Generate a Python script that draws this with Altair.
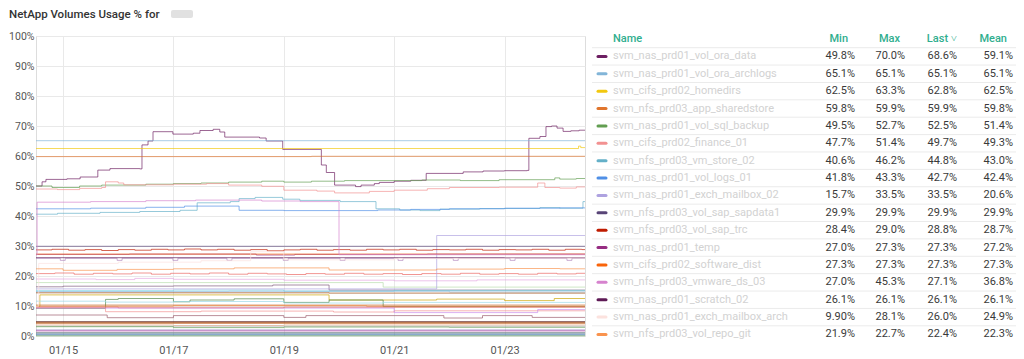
import altair as alt
import pandas as pd

FONT = "Roboto"
TITLE = "NetApp Volumes Usage % for"
START = 14.51      # day of January 2024 at the left edge
END = 24.457       # day of January 2024 at the right edge
X_TICKS = [15, 17, 19, 21, 23]
Y_TICKS = list(range(0, 101, 10))

HEADERS = ["Name", "Min", "Max", "Last \u02c5", "Mean"]
LEGEND_NAMES = [
    "svm_nas_prd01_vol_ora_data",
    "svm_nas_prd01_vol_ora_archlogs",
    "svm_cifs_prd02_homedirs",
    "svm_nfs_prd03_app_sharedstore",
    "svm_nas_prd01_vol_sql_backup",
    "svm_cifs_prd02_finance_01",
    "svm_nfs_prd03_vm_store_02",
    "svm_nas_prd01_vol_logs_01",
    "svm_nas_prd01_exch_mailbox_02",
    "svm_nfs_prd03_vol_sap_sapdata1",
    "svm_nfs_prd03_vol_sap_trc",
    "svm_nas_prd01_temp",
    "svm_cifs_prd02_software_dist",
    "svm_nfs_prd03_vmware_ds_03",
    "svm_nas_prd01_scratch_02",
    "svm_nas_prd01_exch_mailbox_arch",
    "svm_nfs_prd03_vol_repo_git",
]
LEGEND_COLORS = ["#6D1F62", "#82B5D8", "#F2C80F", "#E0752D", "#629E51", "#F29191",
                 "#64B0C8", "#4F8FE6", "#AEA2E0", "#584477", "#BF1B00", "#962D82",
                 "#F9640A", "#D683CE", "#5E1A55", "#FCE2DE", "#F9934E"]
LEGEND_MIN = ["49.8%", "65.1%", "62.5%", "59.8%", "49.5%", "47.7%", "40.6%", "41.8%", "15.7%",
              "29.9%", "28.4%", "27.0%", "27.3%", "27.0%", "26.1%", "9.90%", "21.9%"]
LEGEND_MAX = ["70.0%", "65.1%", "63.3%", "59.9%", "52.7%", "51.4%", "46.2%", "43.3%", "33.5%",
              "29.9%", "29.0%", "27.3%", "27.3%", "45.3%", "26.1%", "28.1%", "22.7%"]
LEGEND_LAST = ["68.6%", "65.1%", "62.8%", "59.9%", "52.5%", "49.7%", "44.8%", "42.7%", "33.5%",
               "29.9%", "28.8%", "27.3%", "27.3%", "27.1%", "26.1%", "26.0%", "22.4%"]
LEGEND_MEAN = ["59.1%", "65.1%", "62.5%", "59.8%", "51.4%", "49.3%", "43.0%", "42.4%", "20.6%",
               "29.9%", "28.7%", "27.2%", "27.3%", "36.8%", "26.1%", "24.9%", "22.3%"]

# ---- series: (day of January, percent) change points ----
vol01 = [(14.51, 50.0), (14.62, 51.4), (14.69, 52.2), (15.07, 52.4), (15.31, 53.0), (15.63, 55.3),
         (15.85, 55.8), (16.39, 55.7), (16.43, 63.7), (16.54, 65.0), (16.63, 68.1), (16.99, 67.3),
         (17.36, 67.6), (17.48, 68.5), (17.72, 68.9), (17.84, 68.0), (17.93, 66.3), (18.56, 66.0),
         (18.68, 65.0), (18.98, 62.2), (19.68, 57.0), (19.77, 54.5), (19.92, 50.3), (20.30, 49.8),
         (20.40, 50.3), (20.64, 50.8), (20.73, 51.2), (21.00, 51.6), (21.30, 51.9), (21.58, 54.2),
         (22.25, 54.7), (22.61, 55.0), (23.00, 55.1), (23.41, 55.2), (23.44, 65.9), (23.64, 66.5),
         (23.75, 69.8), (23.85, 70.0), (23.95, 69.3), (24.06, 68.2), (24.20, 68.4), (24.35, 68.6)]
vol02 = [(14.51, 65.1)]
vol03 = [(14.51, 62.5), (24.34, 63.3), (24.38, 62.8)]
vol04 = [(14.51, 59.8), (19.50, 59.9)]
vol05 = [(14.51, 50.0), (14.80, 49.5), (15.30, 50.0), (15.70, 50.3), (16.50, 50.6), (17.00, 50.8),
         (17.50, 51.0), (18.00, 51.3), (18.60, 51.6), (19.00, 51.3), (19.50, 51.6), (20.10, 51.8),
         (21.50, 52.0), (22.20, 51.8), (22.90, 52.1), (23.91, 52.7), (24.00, 52.3), (24.30, 52.5)]
vol06 = [(14.51, 49.0), (14.90, 48.8), (15.30, 49.2), (15.70, 49.5), (15.77, 51.4), (16.00, 51.0),
         (16.10, 50.4), (17.00, 50.6), (17.60, 50.8), (18.00, 50.3), (18.60, 49.9), (19.00, 48.6),
         (19.60, 48.3), (19.92, 47.7), (20.55, 48.2), (21.00, 48.6), (21.60, 49.1), (22.00, 49.5),
         (22.90, 49.6), (23.60, 51.0), (23.73, 49.5), (24.00, 49.3), (24.30, 49.7)]
vol07 = [(14.51, 40.6), (14.90, 40.9), (15.67, 41.2), (16.39, 41.5), (17.12, 41.9), (17.43, 44.4),
         (18.03, 44.8), (18.19, 45.8), (18.48, 46.2), (18.98, 45.6), (19.29, 45.2), (20.02, 44.8),
         (20.67, 42.4), (21.10, 42.0), (21.47, 41.8), (21.83, 42.3), (22.55, 42.5), (23.64, 42.8),
         (24.00, 42.6), (24.42, 44.8)]
vol08 = [(14.51, 42.4), (15.50, 42.6), (16.50, 42.9), (17.20, 43.3), (18.19, 41.9), (19.00, 41.8),
         (20.70, 42.0), (21.30, 42.2), (22.00, 42.4), (23.00, 42.6), (24.00, 42.7)]
vol09 = [(14.51, 15.7), (21.77, 33.5)]
vol10 = [(14.51, 29.9)]
vol11 = [(14.51, 28.7), (14.80, 28.9), (15.10, 28.6), (15.40, 28.8), (15.70, 28.5), (16.00, 28.8),
         (16.30, 28.6), (16.60, 28.9), (16.90, 28.7), (17.20, 29.0), (17.50, 28.7), (17.80, 28.9),
         (18.10, 28.6), (18.40, 28.8), (18.70, 28.4), (19.00, 28.7), (19.30, 28.9), (19.60, 28.6),
         (19.90, 28.8), (20.20, 28.6), (20.50, 28.9), (20.80, 28.7), (21.10, 28.9), (21.40, 28.6),
         (21.70, 28.8), (22.00, 28.7), (22.30, 28.9), (22.60, 28.6), (22.90, 28.8), (23.20, 28.7),
         (23.50, 28.9), (23.80, 28.6), (24.10, 28.9), (24.40, 28.8)]
vol12 = [(14.51, 27.2), (16.20, 27.3), (18.50, 27.0), (19.20, 27.2), (21.60, 27.3)]
vol13 = [(14.51, 27.3)]
vol14 = [(14.51, 27.0), (14.53, 44.6), (15.50, 44.8), (16.50, 45.1), (17.40, 45.3), (18.60, 45.0),
         (19.30, 44.8), (20.00, 27.1)]
vol15 = [(14.51, 26.1)]
vol16 = [(14.51, 9.9), (14.56, 24.2), (16.00, 24.6), (17.50, 25.1), (18.40, 28.1), (19.00, 25.4),
         (21.00, 25.8), (23.00, 26.0)]
vol17 = [(14.51, 22.4), (15.00, 21.9), (15.98, 22.2), (17.00, 22.4), (18.10, 22.7), (19.82, 22.0),
         (21.77, 22.3), (23.00, 22.5), (24.00, 22.4)]

# volumes further down the (scrolled) legend
vol18 = [(14.51, 25.9), (14.95, 25.2), (15.04, 25.9), (15.98, 25.2), (16.07, 25.9), (16.99, 25.2),
         (17.08, 25.9), (17.97, 25.2), (18.06, 25.9), (18.99, 25.2), (19.08, 25.9), (20.02, 25.2),
         (20.11, 25.9), (21.07, 25.2), (21.16, 25.9), (22.07, 25.2), (22.16, 25.9), (23.10, 25.2),
         (23.19, 25.9), (24.13, 25.2), (24.22, 25.9)]
vol19 = [(14.51, 20.8), (14.85, 21.0), (15.20, 20.6), (15.55, 20.9), (15.90, 20.7), (16.25, 21.0),
         (16.60, 20.6), (16.95, 20.9), (17.30, 20.7), (17.65, 21.0), (18.00, 20.6), (18.35, 20.9),
         (18.70, 20.7), (19.05, 20.5), (19.40, 20.8), (19.75, 20.6), (20.10, 20.9), (20.45, 20.6),
         (20.80, 20.8), (21.15, 20.5), (21.50, 20.8), (21.85, 20.6), (22.20, 20.9), (22.55, 20.6),
         (22.90, 20.8), (23.25, 20.6), (23.60, 20.9), (23.95, 20.7), (24.30, 20.9)]
vol20 = [(14.51, 19.0), (15.60, 18.8), (16.30, 19.2), (17.00, 18.9), (19.00, 18.6), (21.00, 18.4),
         (22.50, 18.7)]
vol21 = [(14.51, 17.8), (20.80, 16.3)]
vol22 = [(14.51, 16.4), (15.00, 16.6), (17.00, 16.7), (18.80, 17.0), (19.82, 15.3)]
vol23 = [(14.51, 15.1), (17.00, 15.3), (19.00, 15.0), (21.00, 15.2)]
vol24 = [(14.51, 14.8), (18.00, 14.9), (22.00, 14.7)]
vol25 = [(14.51, 14.4), (19.82, 14.3)]
vol26 = [(14.51, 9.9), (14.58, 13.7), (19.82, 12.0), (21.77, 12.3), (23.00, 11.8), (23.90, 12.5)]
vol27 = [(14.51, 9.2), (15.77, 12.2), (16.00, 12.5), (17.00, 11.4), (17.30, 12.0), (18.10, 12.4),
         (19.00, 11.2), (19.82, 12.0), (20.80, 9.8)]
vol28 = [(14.51, 11.6), (15.77, 11.3), (17.00, 11.5), (19.00, 11.0), (20.80, 11.2)]
vol29 = [(14.51, 10.3)]
vol30 = [(14.51, 9.9), (17.00, 10.1), (20.50, 9.9)]
vol31 = [(14.51, 9.6), (16.00, 9.4), (19.00, 9.6)]
vol32 = [(14.51, 9.4), (15.77, 8.1), (17.50, 8.3), (19.90, 8.0), (21.00, 8.4)]
vol33 = [(14.51, 9.3), (21.00, 7.8), (23.60, 8.8)]
vol34 = [(14.51, 7.0), (15.80, 6.1), (17.00, 6.8), (19.00, 6.2), (19.40, 6.8), (21.90, 6.0),
         (22.60, 6.8), (23.50, 6.2)]
vol35 = [(14.51, 4.8)]
vol36 = [(14.51, 4.5)]
vol37 = [(14.51, 4.2)]
vol38 = [(14.51, 3.7), (17.00, 3.5), (19.00, 3.7)]
vol39 = [(14.51, 3.3)]
vol40 = [(14.51, 3.1), (17.00, 2.8), (19.00, 3.0), (22.00, 2.9)]
vol41 = [(14.51, 2.0)]
vol42 = [(14.51, 1.7)]
vol43 = [(14.51, 1.2)]
vol44 = [(14.51, 1.0)]
vol45 = [(14.51, 0.6)]
vol46 = [(14.51, 0.3)]
vol47 = [(14.51, 0.05)]

EXTRA = [
    (vol18, "#B48BC0"), (vol19, "#EA6460"), (vol20, "#E5A8E2"), (vol21, "#B7DBAB"),
    (vol22, "#7F5A7E"), (vol23, "#6ED0E0"), (vol24, "#82B5D8"), (vol25, "#99440A"),
    (vol26, "#CCA300"), (vol27, "#508642"), (vol28, "#9AD8E8"), (vol29, "#C15C17"),
    (vol30, "#EF843C"), (vol31, "#E24D42"), (vol32, "#F29191"), (vol33, "#C98BEA"),
    (vol34, "#9A5A6A"), (vol35, "#58140C"), (vol36, "#99440A"), (vol37, "#C15C17"),
    (vol38, "#F9BA8F"), (vol39, "#A0A0A0"), (vol40, "#629E51"), (vol41, "#806EB7"),
    (vol42, "#BA43A9"), (vol43, "#BDBDBD"), (vol44, "#2F575E"), (vol45, "#447EBC"),
    (vol46, "#3F6E9E"), (vol47, "#7EB26D"),
]
LEGEND_SERIES = [vol01, vol02, vol03, vol04, vol05, vol06, vol07, vol08, vol09,
                 vol10, vol11, vol12, vol13, vol14, vol15, vol16, vol17]

BASE = pd.Timestamp("2024-01-01")


def iso(day):
    return (BASE + pd.to_timedelta(day - 1, unit="D")).strftime("%Y-%m-%dT%H:%M:%S")


def dt(day):
    ts = BASE + pd.to_timedelta(day - 1, unit="D")
    return alt.DateTime(year=ts.year, month=ts.month, date=ts.day,
                        hours=ts.hour, minutes=ts.minute, seconds=ts.second)


all_series = EXTRA + list(zip(LEGEND_SERIES, LEGEND_COLORS))
rows = []
for i, (pts, color) in enumerate(all_series):
    pts = list(pts) + [(END, pts[-1][1])]
    for d, v in pts:
        rows.append({"series": f"s{i:02d}", "color": color, "t": iso(d), "v": v})
lines_df = pd.DataFrame(rows)

lines = alt.Chart(lines_df).mark_line(
    interpolate="step-after", strokeWidth=1, opacity=0.68
).encode(
    x=alt.X("t:T", title=None,
            scale=alt.Scale(domain=[dt(START), dt(END)]),
            axis=alt.Axis(values=[alt.DateTime(year=2024, month=1, date=d) for d in X_TICKS],
                          format="%m/%d", domain=False, ticks=False, labelPadding=8,
                          labelFontSize=11, labelColor="#555555", labelFont=FONT,
                          gridColor="#e9e9e9", labelFlush=False)),
    y=alt.Y("v:Q", title=None,
            scale=alt.Scale(domain=[0, 100], nice=False),
            axis=alt.Axis(values=Y_TICKS, labelExpr="datum.value + '%'", domain=False,
                          ticks=False, labelPadding=2, labelFontSize=10.5,
                          labelColor="#555555", labelFont=FONT, gridColor="#e9e9e9")),
    color=alt.Color("color:N", scale=None),
    detail="series:N",
)

# ---- legend table ----
ROW_SCALE = alt.Scale(domain=[-0.1726, 17.087], reverse=True, zero=False, nice=False)
table_df = pd.DataFrame({
    "row": list(range(1, len(LEGEND_NAMES) + 1)),
    "name": LEGEND_NAMES, "color": LEGEND_COLORS,
    "min": LEGEND_MIN, "max": LEGEND_MAX, "last": LEGEND_LAST, "mean": LEGEND_MEAN,
})
header_df = pd.DataFrame({"row": [0], **{f"h{i}": [h] for i, h in enumerate(HEADERS)}})
sep_df = pd.DataFrame({"sep": [i + 0.5 for i in range(len(LEGEND_NAMES))]})

HEAD_COLOR = "#2fae8e"


def text_layer(df, field, xpos, align, color, weight="normal"):
    return alt.Chart(df).mark_text(
        align=align, baseline="middle", font=FONT, fontSize=11, color=color, fontWeight=weight
    ).encode(
        x=alt.value(xpos),
        y=alt.Y("row:Q", scale=ROW_SCALE, axis=None),
        text=alt.Text(f"{field}:N"),
    )


separators = alt.Chart(sep_df).mark_rule(color="#ebebeb", strokeWidth=1).encode(
    x=alt.value(556), x2=alt.value(982),
    y=alt.Y("sep:Q", scale=ROW_SCALE, axis=None),
)
swatches = alt.Chart(table_df).mark_rule(strokeWidth=3, strokeCap="round").encode(
    x=alt.value(562), x2=alt.value(570),
    y=alt.Y("row:Q", scale=ROW_SCALE, axis=None),
    color=alt.Color("color:N", scale=None),
)

table_layers = [
    separators, swatches,
    text_layer(header_df, "h0", 577, "left", HEAD_COLOR, 500),
    text_layer(header_df, "h1", 812, "right", HEAD_COLOR, 500),
    text_layer(header_df, "h2", 864, "right", HEAD_COLOR, 500),
    text_layer(header_df, "h3", 921, "right", HEAD_COLOR, 500),
    text_layer(header_df, "h4", 971, "right", HEAD_COLOR, 500),
    text_layer(table_df, "name", 577, "left", "#d2d2d2"),
    text_layer(table_df, "min", 819, "right", "#3a3a3a"),
    text_layer(table_df, "max", 869, "right", "#3a3a3a"),
    text_layer(table_df, "last", 921, "right", "#3a3a3a"),
    text_layer(table_df, "mean", 977, "right", "#3a3a3a"),
]

title_df = pd.DataFrame({"title": [TITLE]})
title = alt.Chart(title_df).mark_text(
    align="left", baseline="alphabetic", font=FONT, fontSize=11.5, fontWeight=500, color="#333333"
).encode(x=alt.value(-27), y=alt.value(-18.5), text="title:N")
blur = alt.Chart(title_df).mark_rect(color="#d9d9d9", opacity=0.8, cornerRadius=2).encode(
    x=alt.value(135), x2=alt.value(157), y=alt.value(-26), y2=alt.value(-18)
)

chart = alt.layer(lines, *table_layers, title, blur).resolve_scale(
    y="independent"
).properties(
    width=549, height=300,
    autosize=alt.AutoSizeParams(type="none"),
    padding={"left": 28, "top": 28, "right": 431, "bottom": 22},
).configure_view(stroke=None).configure(background="white")

chart.save("out.html", embed_options={"renderer": "svg", "actions": False})
